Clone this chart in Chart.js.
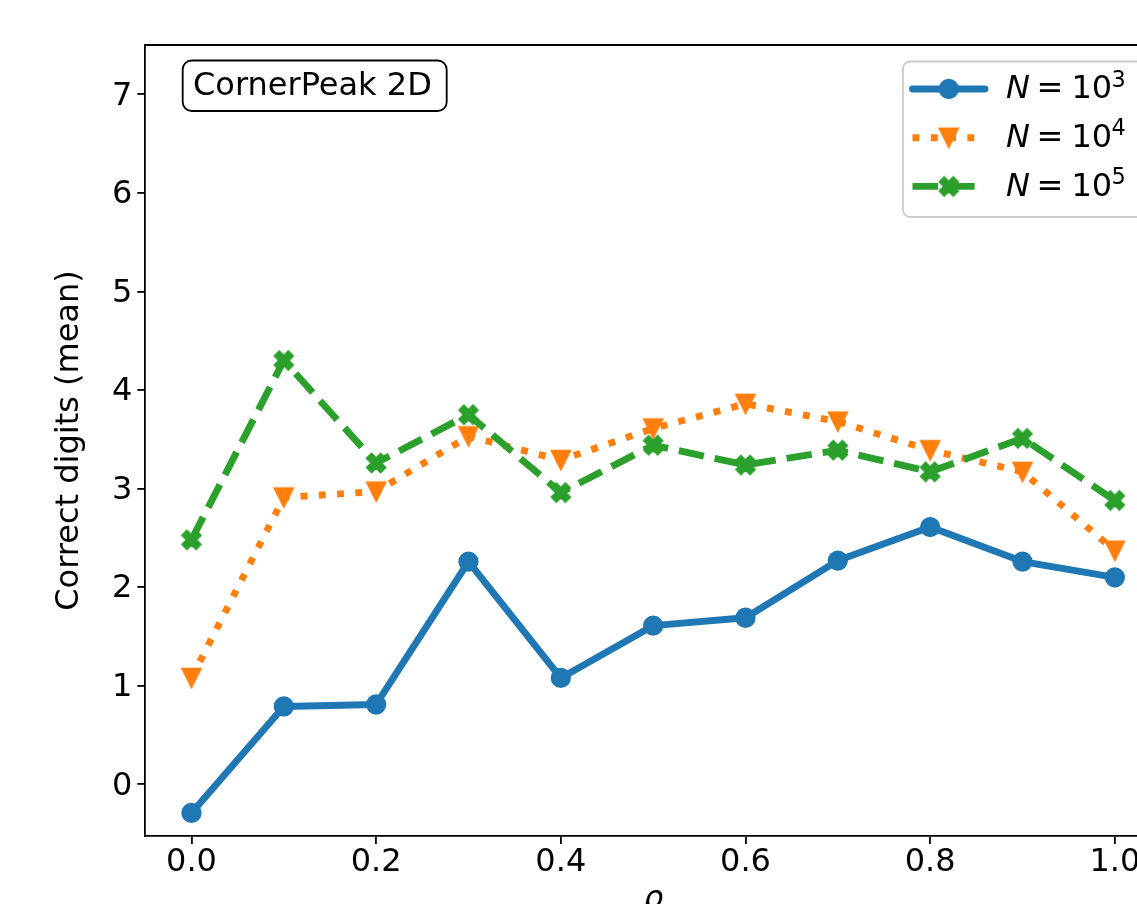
<!DOCTYPE html>
<html><head><meta charset="utf-8">
<script src="https://cdn.jsdelivr.net/npm/chart.js@4.4.1/dist/chart.umd.min.js"></script>
<style>
html,body{margin:0;padding:0;overflow:hidden;background:#fff;width:1137px;height:904px}
#wrap{position:absolute;left:0;top:0;width:1200px;height:960px}
</style>
</head><body>
<div id="wrap"><canvas id="c" width="1200" height="960" style="width:1200px;height:960px"></canvas></div>
<script>
// ---- data ----
const rho = [0.0, 0.1, 0.2, 0.3, 0.4, 0.5, 0.6, 0.7, 0.8, 0.9, 1.0];
const digitsN1e3 = [-0.29, 0.79, 0.81, 2.26, 1.08, 1.61, 1.69, 2.27, 2.61, 2.26, 2.10];
const digitsN1e4 = [1.08, 2.91, 2.97, 3.53, 3.29, 3.61, 3.86, 3.68, 3.39, 3.17, 2.37];
const digitsN1e5 = [2.48, 4.30, 3.26, 3.75, 2.96, 3.44, 3.24, 3.39, 3.17, 3.51, 2.88];
const exponents = [3, 4, 5];
const xTicks = [0.0, 0.2, 0.4, 0.6, 0.8, 1.0];
const yTicks = [0, 1, 2, 3, 4, 5, 6, 7];
const xTitle = 'ρ';
const yTitle = 'Correct digits (mean)';
const annotationText = 'CornerPeak 2D';

// ---- markers ----
const FONT = '"DejaVu Sans", sans-serif';
const LW = 6.9, MS = 18, MEW = 2.3;
function markerCanvas(kind, color) {
  const S = 30, c = document.createElement('canvas');
  c.width = S; c.height = S;
  const g = c.getContext('2d');
  g.translate(S / 2, S / 2);
  g.beginPath();
  if (kind === 'tri') {
    const h = MS / 2;
    g.moveTo(-h, -h); g.lineTo(h, -h); g.lineTo(0, h); g.closePath();
  } else if (kind === 'x') {
    const v = [[-1,-2],[0,-1],[1,-2],[2,-1],[1,0],[2,1],[1,2],[0,1],[-1,2],[-2,1],[-1,0],[-2,-1]];
    const k = MS / 4;
    v.forEach((p, i) => { const X = p[0]*k, Y = p[1]*k; i ? g.lineTo(X, Y) : g.moveTo(X, Y); });
    g.closePath();
  } else {
    g.arc(0, 0, MS / 2, 0, Math.PI * 2);
  }
  g.fillStyle = color; g.fill();
  g.lineWidth = MEW; g.lineJoin = 'miter'; g.strokeStyle = color; g.stroke();
  return c;
}
const C1 = '#1f77b4', C2 = '#ff7f0e', C3 = '#2ca02c';
const triImg = markerCanvas('tri', C2);
const xImg = markerCanvas('x', C3);
const circImg = markerCanvas('circ', C1);

function pts(ys) { return rho.map((x, i) => ({x: x, y: ys[i]})); }

const datasets = [
  {label: 'N1e3', data: pts(digitsN1e3), borderColor: C1, backgroundColor: C1, borderWidth: LW,
   borderDash: [], pointStyle: 'circle', pointRadius: MS/2, pointBorderWidth: MEW,
   pointBackgroundColor: C1, pointBorderColor: C1, order: 2, _img: circImg, borderJoinStyle: 'round', borderCapStyle: 'round'},
  {label: 'N1e4', data: pts(digitsN1e4), borderColor: C2, backgroundColor: C2, borderWidth: LW,
   borderDash: [LW * 1, LW * 1.65], pointStyle: triImg, pointRadius: MS/2, order: 1, _img: triImg,
   borderJoinStyle: 'round', borderCapStyle: 'butt'},
  {label: 'N1e5', data: pts(digitsN1e5), borderColor: C3, backgroundColor: C3, borderWidth: LW,
   borderDash: [LW * 3.7, LW * 1.6], pointStyle: xImg, pointRadius: MS/2, order: 0, _img: xImg,
   borderJoinStyle: 'round', borderCapStyle: 'butt'}
];
datasets.forEach(d => { d.tension = 0; d.fill = false; d.pointHoverRadius = d.pointRadius; });

function rr(ctx, x, y, w, h, r) {
  ctx.beginPath();
  ctx.moveTo(x + r, y); ctx.lineTo(x + w - r, y); ctx.arcTo(x + w, y, x + w, y + r, r);
  ctx.lineTo(x + w, y + h - r); ctx.arcTo(x + w, y + h, x + w - r, y + h, r);
  ctx.lineTo(x + r, y + h); ctx.arcTo(x, y + h, x, y + h - r, r);
  ctx.lineTo(x, y + r); ctx.arcTo(x, y, x + r, y, r); ctx.closePath();
}

const overlay = {
  id: 'overlay',
  afterDraw(chart) {
    const ctx = chart.ctx, a = chart.chartArea;
    ctx.save();
    // top / right spines
    ctx.strokeStyle = '#000'; ctx.lineWidth = 1.8; ctx.setLineDash([]);
    ctx.beginPath(); ctx.moveTo(a.left, a.top); ctx.lineTo(a.right, a.top); ctx.lineTo(a.right, a.bottom); ctx.stroke();
    // annotation box
    ctx.font = '32px ' + FONT;
    rr(ctx, 182.7, 60.5, 264, 50.5, 9);
    ctx.fillStyle = '#fff'; ctx.fill();
    ctx.lineWidth = 1.8; ctx.strokeStyle = '#000'; ctx.stroke();
    ctx.fillStyle = '#000'; ctx.textBaseline = 'alphabetic'; ctx.textAlign = 'left';
    ctx.fillText(annotationText, 193, 95);
    // legend
    const lx = 903, ly = 61.5, lw = 242, lh = 155.5;
    rr(ctx, lx, ly, lw, lh, 7);
    ctx.fillStyle = 'rgba(255,255,255,0.8)'; ctx.fill();
    ctx.lineWidth = 1.8; ctx.strokeStyle = '#cccccc'; ctx.stroke();
    chart.data.datasets.forEach((d, i) => {
      const cy = 89 + 48.7 * i, base = 98.3 + 48.7 * i;
      ctx.save();
      ctx.beginPath(); ctx.moveTo(912.5, cy); ctx.lineTo(985, cy);
      ctx.lineWidth = d.borderWidth; ctx.strokeStyle = d.borderColor;
      ctx.lineCap = d.borderCapStyle; ctx.setLineDash(d.borderDash); ctx.stroke();
      ctx.restore();
      ctx.drawImage(d._img, 948.7 - d._img.width / 2, cy - d._img.height / 2);
      // text N = 10^k
      const x0 = 1006;
      ctx.fillStyle = '#000'; ctx.textBaseline = 'alphabetic';
      ctx.font = 'italic 32px ' + FONT; ctx.fillText('N', x0, base);
      ctx.font = '32px ' + FONT; ctx.fillText('=', x0 + 30.5, base);
      ctx.fillText('10', x0 + 65.5, base);
      ctx.font = '22.4px ' + FONT; ctx.fillText(String(exponents[i]), x0 + 105.5, base - 11.6);
    });
    ctx.restore();
  }
};

new Chart(document.getElementById('c'), {
  type: 'line',
  data: {datasets: datasets},
  plugins: [overlay],
  options: {
    responsive: false, animation: false, devicePixelRatio: 1,
    layout: {padding: {left: 0, top: 45, right: 39, bottom: 41}},
    plugins: {legend: {display: false}, tooltip: {enabled: false}},
    scales: {
      x: {
        type: 'linear', min: -0.05, max: 1.05,
        afterBuildTicks: s => { s.ticks = xTicks.map(v => ({value: v})); },
        afterFit: s => { s.height = 83; },
        ticks: {callback: v => v.toFixed(1), font: {family: FONT, size: 32, lineHeight: 1}, color: '#000', padding: 3, maxRotation: 0, autoSkip: false},
        grid: {display: true, drawOnChartArea: false, drawTicks: true, tickLength: 8, color: '#000', lineWidth: 1.8},
        border: {display: true, color: '#000', width: 1.8},
        title: {display: true, text: xTitle, color: '#000', font: {family: FONT, size: 32, style: 'italic', lineHeight: 1.2}, padding: {top: 0, bottom: 0}}
      },
      y: {
        type: 'linear', min: -0.524, max: 7.5,
        afterBuildTicks: s => { s.ticks = yTicks.map(v => ({value: v})); },
        afterFit: s => { s.width = 145.3; },
        ticks: {callback: v => String(v), font: {family: FONT, size: 32, lineHeight: 1}, color: '#000', padding: 5, labelOffset: 2, autoSkip: false},
        grid: {display: true, drawOnChartArea: false, drawTicks: true, tickLength: 8, color: '#000', lineWidth: 1.8},
        border: {display: true, color: '#000', width: 1.8},
        title: {display: true, text: yTitle, color: '#000', font: {family: FONT, size: 32, lineHeight: 1.2}, padding: {top: 50, bottom: 0}}
      }
    }
  }
});
</script>
</body></html>
